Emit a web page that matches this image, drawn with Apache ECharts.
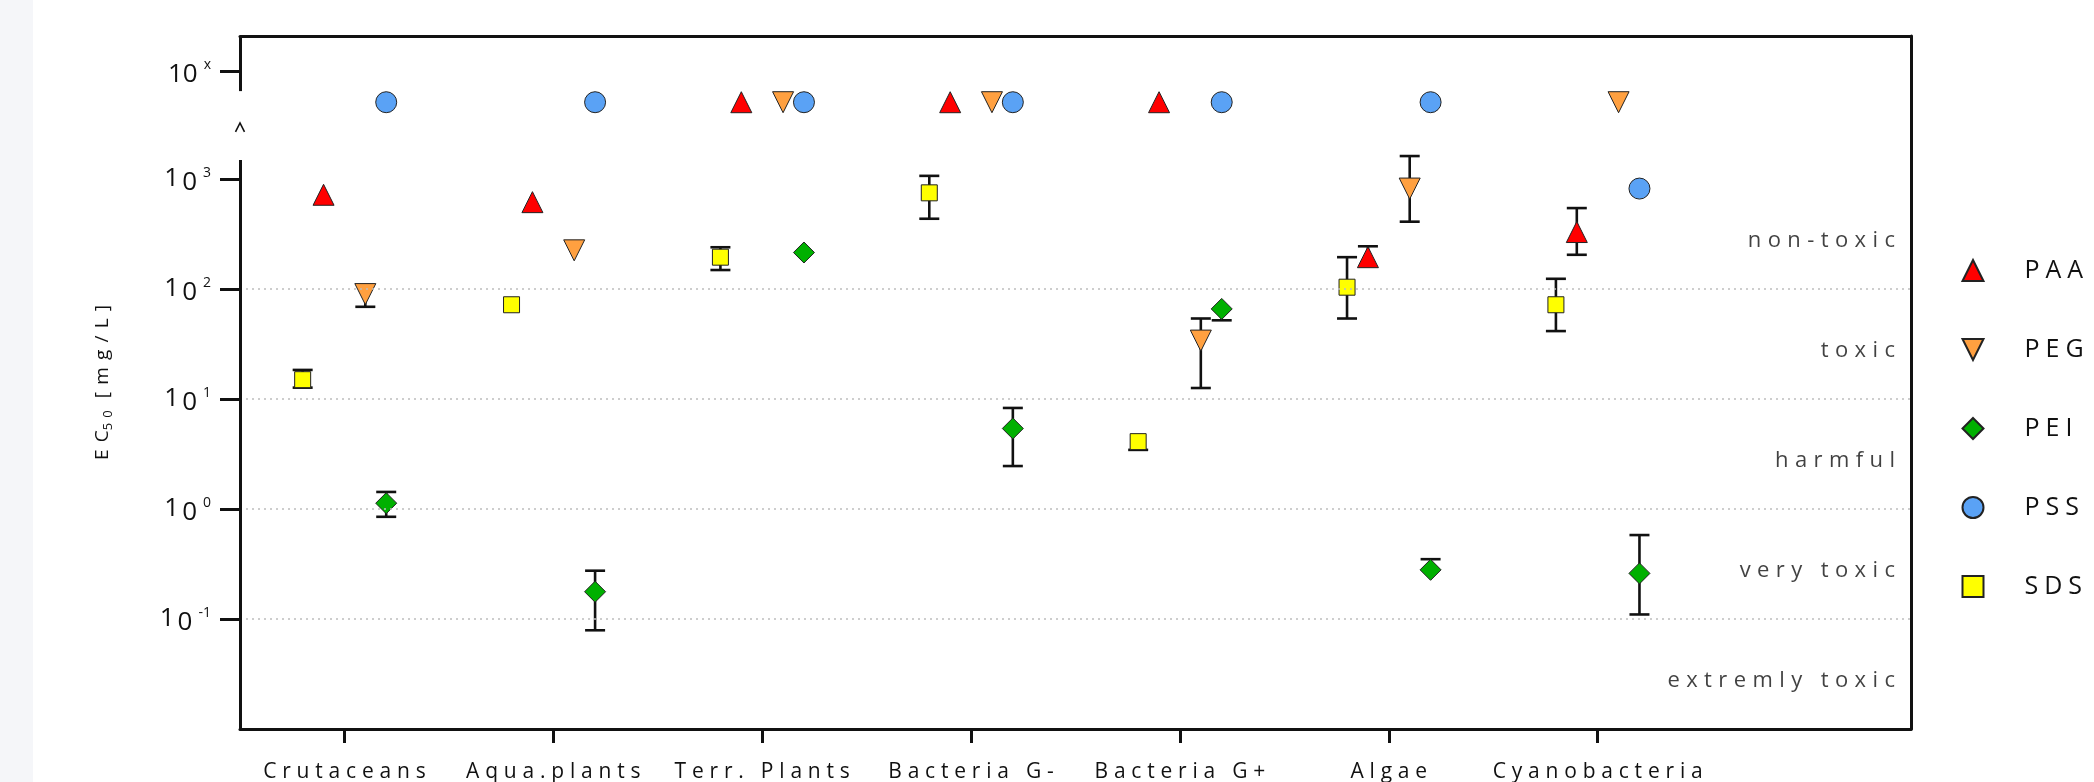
<!DOCTYPE html>
<html>
<head>
<meta charset="utf-8">
<script src="https://cdn.jsdelivr.net/npm/echarts@6/dist/echarts.min.js"></script>
<style>
  html, body { margin: 0; padding: 0; width: 2094px; height: 782px; overflow: hidden;
    background: linear-gradient(to right, #f5f6f9 0, #f5f6f9 33px, #ffffff 33px); }
  #chart { width: 2094px; height: 782px; }
</style>
</head>
<body>
<div id="chart"></div>
<script>
// Test organisms (x-axis groups)
const CATEGORIES = ['Crutaceans', 'Aqua.plants', 'Terr. Plants', 'Bacteria G-', 'Bacteria G+', 'Algae', 'Cyanobacteria'];

// EC50 in mg/L. ABOVE = no effect up to the highest tested concentration (plotted in the "10^x" band).
const ABOVE = 5000;
const PAA    = [720, 617, ABOVE, ABOVE, ABOVE, 195, 330];
const PAA_LO = [null, null, null, null, null, null, 205];
const PAA_HI = [null, null, null, null, null, 245, 545];

const PEG    = [90, 225, ABOVE, ABOVE, 34, 820, ABOVE];
const PEG_LO = [69, null, null, null, 12.6, 410, null];
const PEG_HI = [null, null, null, null, 54, 1620, null];

const PEI    = [1.13, 0.177, 215, 5.4, 66, 0.28, 0.26];
const PEI_LO = [0.85, 0.079, null, 2.46, 52, null, 0.11];
const PEI_HI = [1.43, 0.275, null, 8.3, null, 0.35, 0.58];

const PSS    = [ABOVE, ABOVE, ABOVE, ABOVE, ABOVE, ABOVE, 820];
const PSS_LO = [null, null, null, null, null, null, null];
const PSS_HI = [null, null, null, null, null, null, null];

const SDS    = [15, 72, 195, 750, 4.1, 104, 72];
const SDS_LO = [12.7, null, 149, 436, 3.45, 54, 41.5];
const SDS_HI = [18.4, null, 240, 1070, null, 195, 124];

// Toxicity classes between decade boundaries (mg/L)
const CLASS_BOUNDS = [1000, 100, 10, 1, 0.1, 0.01];
const CLASS_NAMES  = ['non-toxic', 'toxic', 'harmful', 'very toxic', 'extremly toxic'];

// Y tick labels: decades plus the open-ended "10^x" tick
const Y_TICKS = [0.1, 1, 10, 100, 1000];
const TOP_TICK = 9600;
const GRID_LINES = [100, 10, 1, 0.1];

// ---- presentation ----
const Y_MIN = 0.01, Y_MAX = 20000;
const AXIS_GAP = [1490, 6310];     // break in the left axis line
const BREAK_MARK = 2950;           // caret drawn inside the break
const INK = '#111111';
const FONT = 'Open Sans';

const SUBSTANCES = [
  { name: 'PAA', values: PAA, lo: PAA_LO, hi: PAA_HI, symbol: 'triangle', size: 21, color: '#ff0000', dodge: -0.1 },
  { name: 'PEG', values: PEG, lo: PEG_LO, hi: PEG_HI, symbol: 'path://M0,0L20,0L10,20Z', size: 21, color: '#ffa040', dodge: 0.1 },
  { name: 'PEI', values: PEI, lo: PEI_LO, hi: PEI_HI, symbol: 'diamond', size: 21, color: '#00b000', dodge: 0.2 },
  { name: 'PSS', values: PSS, lo: PSS_LO, hi: PSS_HI, symbol: 'circle', size: 21, color: '#5aa2f5', dodge: 0.2 },
  { name: 'SDS', values: SDS, lo: SDS_LO, hi: SDS_HI, symbol: 'rect', size: 16, color: '#ffff00', dodge: -0.2 }
];

// Letter-spaced text: every character becomes a rich token with right padding,
// the last one without, so alignment stays on the glyphs.
function tracked(s, tok) {
  const chars = Array.from(s);
  return chars.map((c, i) => '{' + tok + (i === chars.length - 1 ? 'L' : '') + '|' + c + '}').join('');
}
function trackedStyles(tok, style, gap) {
  const o = {};
  o[tok] = Object.assign({}, style, { padding: [0, gap, 0, 0] });
  o[tok + 'L'] = Object.assign({}, style);
  return o;
}

function yLabel(v) {
  if (v >= TOP_TICK * 0.99) return '{m|10}{e|x}';
  const k = Math.round(Math.log10(v));
  return tracked('10', 'n') + '{e|' + k + '}';
}

function renderErrorBar(params, api) {
  const x = api.value(0);
  const lo = api.coord([x, api.value(2)]);
  const hi = api.coord([x, api.value(3)]);
  const half = 10;
  const mk = (x1, y1, x2, y2) => ({
    type: 'line', shape: { x1, y1, x2, y2 },
    style: { stroke: INK, lineWidth: 2.6 }
  });
  const children = [mk(lo[0], lo[1], hi[0], hi[1])];
  if (api.value(4)) children.push(mk(lo[0] - half, lo[1], lo[0] + half, lo[1]));
  if (api.value(5)) children.push(mk(hi[0] - half, hi[1], hi[0] + half, hi[1]));
  return { type: 'group', children };
}

const series = [];

// error bars under the markers
SUBSTANCES.forEach(s => {
  const data = [];
  s.values.forEach((v, i) => {
    const lo = s.lo[i], hi = s.hi[i];
    if (v == null || (lo == null && hi == null)) return;
    data.push([i + s.dodge, v, lo == null ? v : lo, hi == null ? v : hi, lo == null ? 0 : 1, hi == null ? 0 : 1]);
  });
  series.push({
    type: 'custom', name: s.name + ' error', renderItem: renderErrorBar,
    data, encode: { x: 0, y: 1 }, z: 2, silent: true, clip: false
  });
});

// markers
SUBSTANCES.forEach(s => {
  series.push({
    type: 'scatter', name: s.name, symbol: s.symbol, symbolSize: s.size,
    itemStyle: { color: s.color, borderColor: '#222', borderWidth: 1, opacity: 1 },
    data: s.values.map((v, i) => (v == null ? null : [i + s.dodge, v])).filter(d => d),
    z: 4, clip: false, silent: true
  });
});

// frame: dotted class boundaries, broken left axis line, break caret
series.push({
  type: 'line', name: 'frame', data: [], z: 1, clip: false, silent: true,
  markLine: {
    silent: true, symbol: ['none', 'none'], label: { show: false },
    data: GRID_LINES.map(v => ({ yAxis: v, lineStyle: { type: [2, 4], color: '#bdbdbd', width: 1.6 } }))
      .concat([
        [{ coord: [-0.5, Y_MIN], lineStyle: { type: 'solid', color: INK, width: 3 } }, { coord: [-0.5, AXIS_GAP[0]] }],
        [{ coord: [-0.5, AXIS_GAP[1]], lineStyle: { type: 'solid', color: INK, width: 3 } }, { coord: [-0.5, Y_MAX] }]
      ])
  },
  markPoint: {
    silent: true,
    data: [{
      coord: [-0.5, BREAK_MARK], symbol: 'path://M0,10L5,0L10,10', symbolSize: [9, 9],
      itemStyle: { color: 'none', borderColor: INK, borderWidth: 1.6 }, label: { show: false }
    }]
  }
});

// toxicity class captions at the right edge of the plot
const ZONE_STYLE = { fontFamily: FONT, fontSize: 22, color: INK, lineHeight: 24 };
const bandMid = i => Math.sqrt(CLASS_BOUNDS[i] * CLASS_BOUNDS[i + 1]);
series.push({
  type: 'scatter', name: 'classes', symbolSize: 0, z: 3, clip: false, silent: true,
  data: CLASS_NAMES.map((t, i) => ({ name: t, value: [7.5, bandMid(i)] })),
  label: {
    show: true, position: 'left', distance: 16, offset: [0, 7],
    formatter: p => tracked(p.name, 'z'),
    fontFamily: FONT, fontSize: 22, color: INK,
    rich: trackedStyles('z', ZONE_STYLE, 6.4)
  }
});

const XL_STYLE = { fontFamily: FONT, fontSize: 21, color: INK, lineHeight: 22 };
const LEG_STYLE = { fontFamily: FONT, fontSize: 25, color: INK, lineHeight: 21 };
const NAME_STYLE = { fontFamily: FONT, fontSize: 19, color: INK, lineHeight: 24 };
const NAME_SUB = { fontFamily: FONT, fontSize: 13, color: INK, lineHeight: 24, verticalAlign: 'bottom' };
const TICK_STYLE = { fontFamily: FONT, fontSize: 26, color: INK, lineHeight: 26, padding: [7, 0, 0, 0] };

const chart = echarts.init(document.getElementById('chart'), null, { renderer: 'canvas' });
chart.setOption({
  animation: false,
  backgroundColor: 'transparent',
  textStyle: { fontFamily: FONT },
  grid: { left: 240, right: 183, top: 36, bottom: 53, containLabel: false, outerBoundsMode: 'none' },
  legend: {
    data: SUBSTANCES.map(s => s.name),
    orient: 'vertical', left: 1961.5, top: 258, padding: 0,
    itemWidth: 21, itemHeight: 21, itemGap: 54,
    formatter: n => tracked(n, 'g'),
    textStyle: {
      fontFamily: FONT, fontSize: 25, color: INK, lineHeight: 21, padding: [0, 0, 0, 36],
      rich: trackedStyles('g', LEG_STYLE, 6)
    },
    selectedMode: false
  },
  xAxis: [{
    type: 'value', min: -0.5, max: 7.5,
    axisLine: { show: true, onZero: false, lineStyle: { color: INK, width: 3 } },
    axisTick: { show: true, customValues: CATEGORIES.map((c, i) => i), length: 14, lineStyle: { color: INK, width: 3 } },
    axisLabel: {
      customValues: CATEGORIES.map((c, i) => i), margin: 32,
      formatter: v => tracked(CATEGORIES[Math.round(v)] || '', 'c'),
      fontFamily: FONT, fontSize: 21, color: INK,
      rich: trackedStyles('c', XL_STYLE, 5.8)
    },
    splitLine: { show: false }
  }, {
    type: 'value', position: 'top', min: 0, max: 1,
    axisLine: { show: true, onZero: false, lineStyle: { color: INK, width: 3 } },
    axisTick: { show: false }, axisLabel: { show: false }, splitLine: { show: false }
  }],
  yAxis: [{
    type: 'log', logBase: 10, min: Y_MIN, max: Y_MAX,
    axisLine: { show: false, onZero: false },
    axisTick: { show: true, customValues: Y_TICKS.concat([TOP_TICK]), length: 20, lineStyle: { color: INK, width: 3 } },
    axisLabel: {
      customValues: Y_TICKS.concat([TOP_TICK]), margin: 29, formatter: yLabel,
      fontFamily: FONT, fontSize: 26, color: INK,
      rich: Object.assign(
        trackedStyles('n', TICK_STYLE, 3),
        {
          m: TICK_STYLE,
          e: { fontFamily: FONT, fontSize: 14, color: INK, lineHeight: 14, verticalAlign: 'top', padding: [0, 0, 0, 6] }
        })
    },
    splitLine: { show: false },
    name: tracked('EC', 't') + tracked('50', 's') + '{t| }' + tracked('[mg/L]', 't'),
    nameLocation: 'middle', nameRotate: 90, nameGap: 125,
    nameTextStyle: {
      fontFamily: FONT, fontSize: 19, color: INK,
      rich: Object.assign(trackedStyles('t', NAME_STYLE, 7.2), trackedStyles('s', NAME_SUB, 5))
    }
  }, {
    type: 'value', position: 'right', min: 0, max: 1,
    axisLine: { show: true, onZero: false, lineStyle: { color: INK, width: 3 } },
    axisTick: { show: false }, axisLabel: { show: false }, splitLine: { show: false }
  }],
  series
});
</script>
</body>
</html>
